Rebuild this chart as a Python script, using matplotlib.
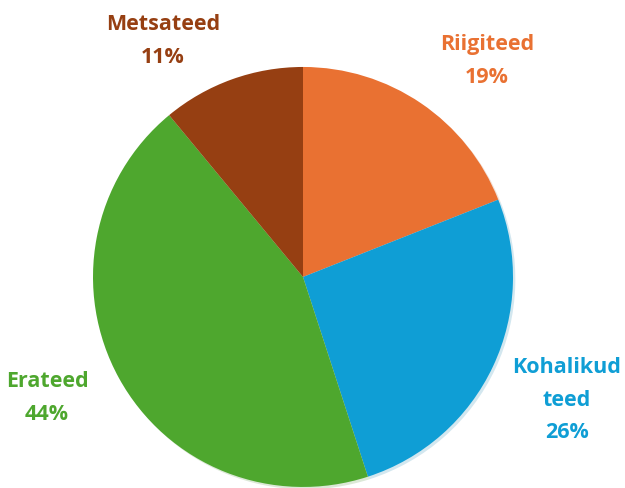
import matplotlib.pyplot as plt

names=["Riigiteed","Kohalikud\nteed","Erateed","Metsateed"]
shares=[19,26,44,11]
colors=["#E97132","#0F9ED5","#4EA72E","#963F12"]
# label centres, in units of the pie radius
labelx=[0.876,1.257,-1.219,-0.667]
labely=[1.029,-0.586,-0.576,1.124]

fig=plt.figure(figsize=(6.25,4.88),dpi=100)
ax=fig.add_axes([0.4848-0.336,0.4324-0.4303,0.672,0.8607])
ax.pie(shares,colors=colors,startangle=90,counterclock=False,radius=1.0,
	wedgeprops=dict(linewidth=0),shadow=dict(ox=0.008,oy=-0.008,shade=0.2,alpha=0.18))
ax.set_xlim(-1,1)
ax.set_ylim(-1,1)
ax.set_aspect("equal")
ax.axis("off")
for i in range(len(names)):
	ax.text(labelx[i],labely[i],names[i]+"\n"+str(shares[i])+"%",ha="center",va="center",
		color=colors[i],fontsize=15.5,fontweight="bold",family="Open Sans",linespacing=1.72,clip_on=False)
fig.savefig("out.png")
